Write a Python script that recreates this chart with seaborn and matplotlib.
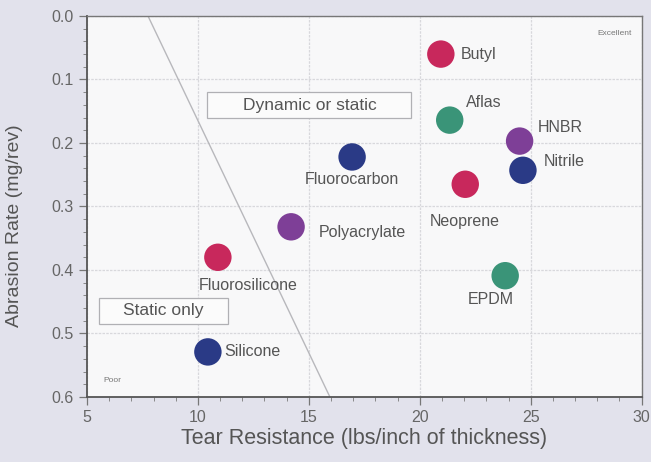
import matplotlib
matplotlib.use("Agg")
import matplotlib.pyplot as plt
import seaborn as sns
import pandas as pd
from matplotlib.ticker import MultipleLocator
from matplotlib.patches import Rectangle

materials = ["Butyl", "Aflas", "HNBR", "Nitrile", "Fluorocarbon", "Neoprene",
             "Polyacrylate", "Fluorosilicone", "EPDM", "Silicone"]
tear = [20.95, 21.35, 24.5, 24.65, 16.95, 22.05, 14.2, 10.9, 23.85, 10.45]
abrasion = [0.060, 0.164, 0.197, 0.243, 0.222, 0.265, 0.332, 0.380, 0.409, 0.529]
group = ["red", "green", "purple", "blue", "blue", "red", "purple", "red", "green", "blue"]
group_colors = {"red": "#c8285c", "green": "#3a9478", "purple": "#7e3f97", "blue": "#2a3a86"}

# boundary between "static only" and "dynamic or static"
line_x = [7.75, 15.95]
line_y = [0.0, 0.6]

# label offsets in points (dx, dy) and alignment
label_pos = {
    "Butyl": (14, 0, "left"), "Aflas": (12, 13, "left"), "HNBR": (13, 10, "left"),
    "Nitrile": (15, 6, "left"), "Fluorocarbon": (0, -16, "center"),
    "Neoprene": (0, -27, "center"), "Polyacrylate": (20, -4, "left"),
    "Fluorosilicone": (22, -20, "center"), "EPDM": (-10, -17, "center"),
    "Silicone": (12, 0, "left"),
}

df = pd.DataFrame({"material": materials, "tear": tear, "abrasion": abrasion, "group": group})

sns.set_style("white")
plt.rcParams["font.family"] = ["Liberation Sans", "DejaVu Sans"]
txt = "#555555"

fig = plt.figure(figsize=(6.51, 4.62), dpi=100)
fig.patch.set_facecolor("#e2e2ec")
ax = fig.add_axes([0.1336, 0.1407, 0.852, 0.8247])
ax.set_facecolor("#f8f8f9")

ax.set_xlim(5, 30)
ax.set_ylim(0.6, 0.0)
ax.xaxis.set_major_locator(MultipleLocator(5))
ax.xaxis.set_minor_locator(MultipleLocator(1))
ax.yaxis.set_major_locator(MultipleLocator(0.1))
ax.yaxis.set_minor_locator(MultipleLocator(0.02))
ax.grid(True, which="major", color="#d8d8dc", linewidth=0.9, linestyle=(0, (2, 1)))
ax.set_axisbelow(True)

ax.plot(line_x, line_y, color="#b8b8bc", linewidth=1.0, zorder=1)

sns.scatterplot(data=df, x="tear", y="abrasion", hue="group", palette=group_colors,
                s=390, edgecolor="none", legend=False, ax=ax, zorder=3)

for m, x, y in zip(materials, tear, abrasion):
    dx, dy, ha = label_pos[m]
    ax.annotate(m, (x, y), xytext=(dx, dy), textcoords="offset points",
                ha=ha, va="center", fontsize=11.5, color=txt)

# region boxes
for (x0, y0, w, h), label, tx, ty in [((0.216, 0.732, 0.369, 0.068), "Dynamic or static", 0.402, 0.766),
                                      ((0.0216, 0.192, 0.232, 0.068), "Static only", 0.137, 0.226)]:
    ax.add_patch(Rectangle((x0, y0), w, h, transform=ax.transAxes, facecolor="#fbfbfb",
                           edgecolor="#b0b0b4", linewidth=0.9, zorder=2))
    ax.text(tx, ty, label, transform=ax.transAxes, ha="center", va="center",
            fontsize=12.5, color=txt, zorder=4)

ax.text(0.982, 0.955, "Excellent", transform=ax.transAxes, ha="right", va="center",
        fontsize=6, color="#777777")
ax.text(0.029, 0.042, "Poor", transform=ax.transAxes, ha="left", va="center",
        fontsize=6, color="#777777")

ax.set_xlabel("Tear Resistance (lbs/inch of thickness)", fontsize=15.5, color=txt, labelpad=2)
ax.set_ylabel("Abrasion Rate (mg/rev)", fontsize=14, color=txt)
ax.yaxis.set_label_coords(-0.115, 0.45)
ax.tick_params(axis="both", which="major", length=6, width=0.9, color="#777777",
               labelsize=11.5, labelcolor="#666666", direction="out", bottom=True, left=True)
ax.tick_params(axis="both", which="minor", length=3, width=0.7, color="#888888",
               direction="out", bottom=True, left=True)
ax.set_yticks([0.0, 0.1, 0.2, 0.3, 0.4, 0.5, 0.6])
ax.set_yticklabels(["0.0", "0.1", "0.2", "0.3", "0.4", "0.5", "0.6"])

for side in ["left", "bottom"]:
    ax.spines[side].set_color("#555555")
    ax.spines[side].set_linewidth(1.3)
for side in ["top", "right"]:
    ax.spines[side].set_color("#777777")
    ax.spines[side].set_linewidth(1.0)

fig.savefig("out.png", dpi=100, facecolor=fig.get_facecolor())
